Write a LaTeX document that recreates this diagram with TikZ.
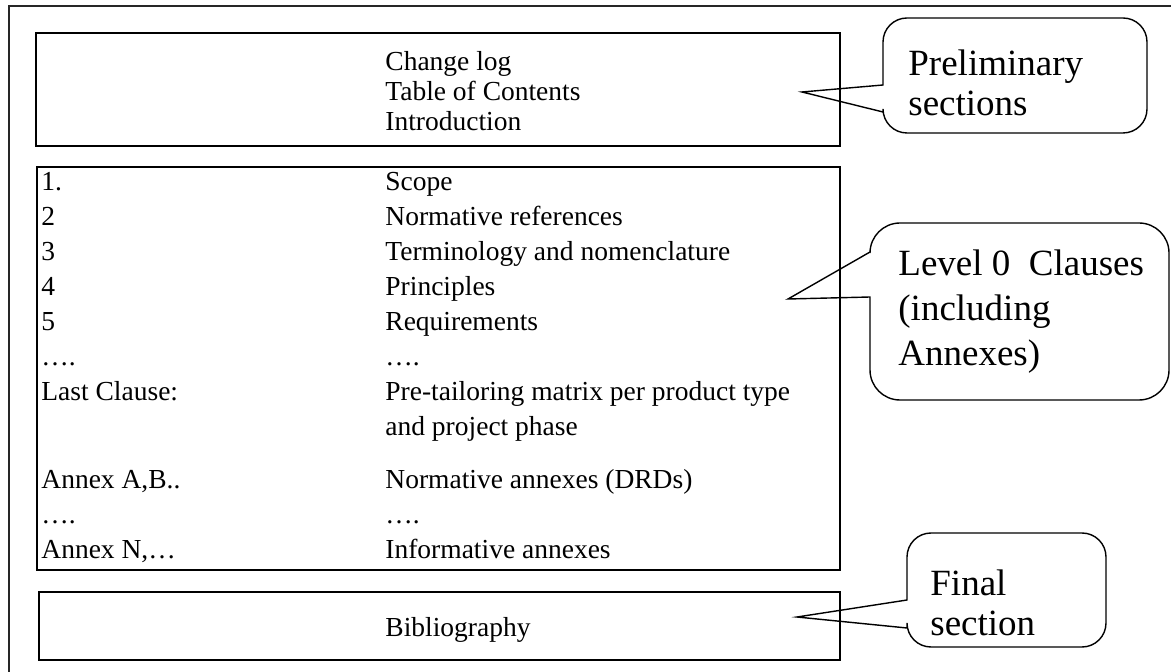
\documentclass[tikz,border=0pt]{standalone}
\usepackage{fontspec}
\setmainfont{Liberation Serif}
\begin{document}
\begin{tikzpicture}[x=0.5pt,y=-0.5pt,
  frame/.style={draw=black!85, line width=1pt},
  box/.style={draw=black, line width=1pt},
  txt/.style={anchor=base west, inner sep=0pt, font=\fontsize{13.75pt}{16.75pt}\selectfont},
  ctxt/.style={anchor=north west, inner sep=0pt, align=left, font=\fontsize{18.5pt}{20pt}\selectfont},
  callout/.style={draw=black, line width=0.7pt}]
\useasboundingbox (0,0) rectangle (1171,672);
% outer frame (cropped)
\draw[frame] (9,672) -- (9,6) -- (1171,6);
% boxes
\draw[box] (36,33) rectangle (840,146);
\draw[box] (37,167) rectangle (840,570);
\draw[box] (39,592) rectangle (840,660);
% box 1 text
\node[txt] (cl)  at (385,71)  {Change log};
\node[txt] (toc) at (385,101) {Table of Contents};
\node[txt] (int) at (385,131) {Introduction};
% box 2 text
\node[txt] (n1)  at (41,191)  {1.};
\node[txt] (t1)  at (385,191) {Scope};
\node[txt] (n2)  at (41,226)  {2};
\node[txt] (t2)  at (385,226) {Normative references};
\node[txt] (n3)  at (41,261)  {3};
\node[txt] (t3)  at (385,261) {Terminology and nomenclature};
\node[txt] (n4)  at (41,296)  {4};
\node[txt] (t4)  at (385,296) {Principles};
\node[txt] (n5)  at (41,331)  {5};
\node[txt] (t5)  at (385,331) {Requirements};
\node[txt] (n6)  at (41,366)  {….};
\node[txt] (t6)  at (385,366) {….};
\node[txt] (n7)  at (41,401)  {Last Clause:};
\node[txt] (t7)  at (385,401) {Pre-tailoring matrix per product type};
\node[txt] (t7b) at (385,436) {and project phase};
\node[txt] (n8)  at (41,489)  {Annex A,B..};
\node[txt] (t8)  at (385,489) {Normative annexes (DRDs)};
\node[txt] (n9)  at (41,524)  {….};
\node[txt] (t9)  at (385,524) {….};
\node[txt] (n10) at (41,559)  {Annex N,…};
\node[txt] (t10) at (385,559) {Informative annexes};
% box 3 text
\node[txt] (bib) at (385,636) {Bibliography};
% callout 1
\coordinate (tipA) at (802,92);
\draw[callout] (tipA) -- (883,85) [rounded corners=12pt] -- (883,18) -- (1147,18) -- (1147,133) -- (883,133) [sharp corners] -- (883,112) -- cycle;
\node[ctxt] (ca) at (908,49) {Preliminary\\sections};
% callout 2
\coordinate (tipB) at (788,299);
\draw[callout] (tipB) -- (870,252) [rounded corners=15pt] -- (870,223) -- (1169,223) -- (1169,400) -- (870,400) [sharp corners] -- (870,297) -- cycle;
\node[ctxt, font=\fontsize{18.5pt}{22.5pt}\selectfont] (cb) at (898,249) {Level 0\ \ Clauses\\(including\\Annexes)};
% callout 3
\coordinate (tipC) at (797,617);
\draw[callout] (tipC) -- (907,600) [rounded corners=12pt] -- (907,533) -- (1106,533) -- (1106,647) -- (907,647) [sharp corners] -- (907,628) -- cycle;
\node[ctxt] (cc) at (930,569) {Final\\section};
\end{tikzpicture}
\end{document}
